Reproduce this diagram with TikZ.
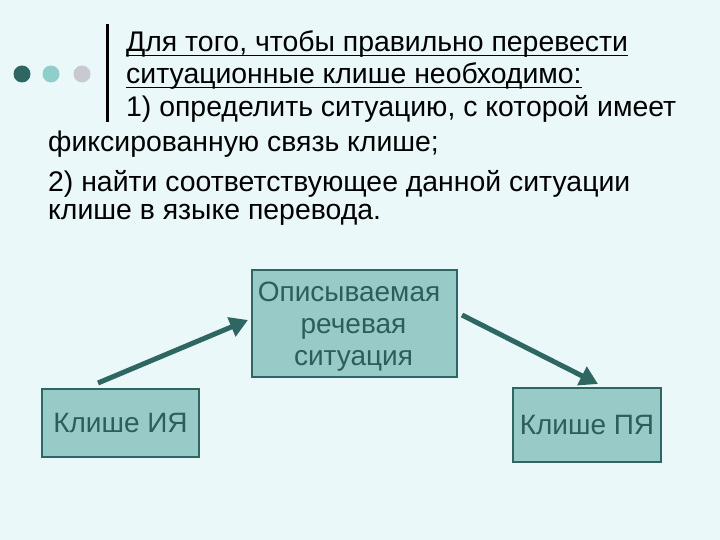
\documentclass[tikz,border=0pt]{standalone}
\usepackage{fontspec}
\setmainfont{Liberation Sans}
\usetikzlibrary{arrows.meta,calc}
\definecolor{bg}{HTML}{EAF8FA}
\definecolor{dkteal}{HTML}{2E6662}
\definecolor{mdteal}{HTML}{8FCFCB}
\definecolor{ltgrey}{HTML}{C9C9D1}
\definecolor{boxfill}{HTML}{98CBC8}
\definecolor{boxtext}{HTML}{2E5E5A}
\tikzset{
  txt/.style={anchor=base west, inner sep=0pt, font=\fontsize{28.4}{32}\selectfont, text=black},
  box/.style={draw=dkteal, line width=1.2pt, fill=boxfill, text=boxtext, font=\fontsize{28}{32}\selectfont, align=center, inner sep=0pt},
  boxtxt/.style={text=boxtext, font=\fontsize{28}{32}\selectfont, align=center, inner sep=0pt},
  arr/.style={draw=dkteal, line width=5pt, -{Triangle[length=18pt,width=20pt]}},
  uline/.style={line width=1.6pt},
  dot/.style={circle, inner sep=0pt, minimum size=17pt}
}
\begin{document}
\begin{tikzpicture}[x=1pt,y=-1pt]
\fill[bg] (0,0) rectangle (720,540);
\useasboundingbox (0,0) rectangle (720,540);
\node[dot, fill=dkteal] (d1) at (22,74) {};
\node[dot, fill=mdteal] (d2) at (51,74) {};
\node[dot, fill=ltgrey] (d3) at (82,74) {};
\draw[line width=3pt] (107,24) -- (107,122);
\node[txt] (l1) at (126,52) {Для того, чтобы правильно перевести};
\node[txt] (l2) at (126,84) {ситуационные клише необходимо:};
\draw[uline] ($(l1.base west)+(0,3.5)$) -- ($(l1.base east)+(0,3.5)$);
\draw[uline] ($(l2.base west)+(0,3.5)$) -- ($(l2.base east)+(0,3.5)$);
\node[txt] (l3) at (126,117) {1) определить ситуацию, с которой имеет};
\node[txt] (l4) at (48,152) {фиксированную связь клише;};
\node[txt] (l5) at (48,192) {2) найти соответствующее данной ситуации};
\node[txt] (l6) at (48,219) {клише в языке перевода.};
\node[box, minimum width=205pt, minimum height=107pt] (mid) at (354.5,323.5) {};
\node[boxtxt] (midtext) at (353.5,327) {Описываемая\rule{9pt}{0pt}\\речевая\\ситуация};
\node[box, minimum width=157pt, minimum height=68pt] (left) at (120.5,423) {Клише ИЯ};
\node[box, minimum width=148pt, minimum height=74pt] (right) at (587,425) {Клише ПЯ};
\coordinate (a1s) at (98,383);
\coordinate (a1e) at (248,320);
\coordinate (a2s) at (462,315);
\coordinate (a2e) at (598,384);
\draw[arr] (a1s) -- (a1e);
\draw[arr] (a2s) -- (a2e);
\end{tikzpicture}
\end{document}
